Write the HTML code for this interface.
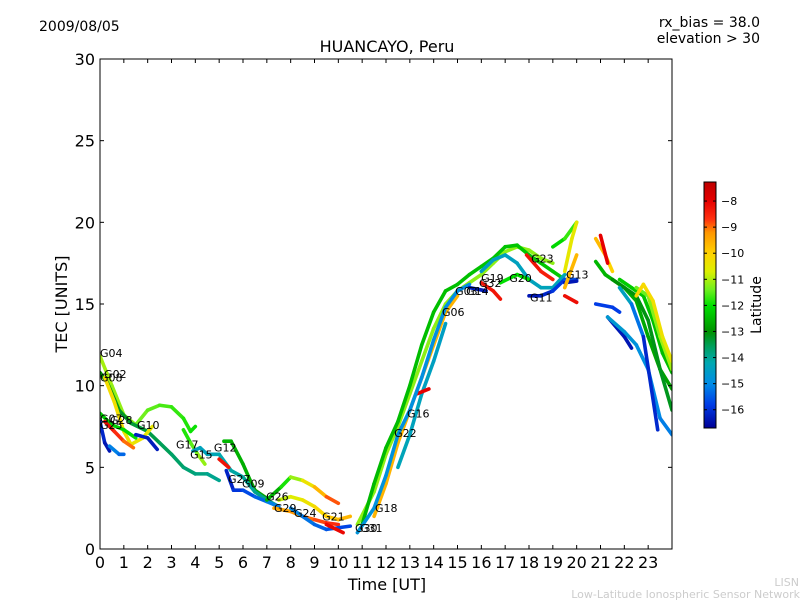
<!DOCTYPE html>
<html><head><meta charset="utf-8"><style>
body{margin:0;background:#fff;}
svg{display:block;font-family:"DejaVu Sans","Liberation Sans",sans-serif;}
</style></head><body>
<svg id="chart" width="800" height="600" viewBox="0 0 800 600">
<defs>
<linearGradient id="cbar" x1="0" y1="1" x2="0" y2="0"></linearGradient>
<clipPath id="clip"><rect x="100" y="59" width="572" height="490"/></clipPath>
</defs>
<rect width="800" height="600" fill="#fff"/>
<text x="39" y="31" font-size="14">2009/08/05</text>
<text x="760" y="27" font-size="14" text-anchor="end">rx_bias = 38.0</text>
<text x="760" y="43" font-size="14" text-anchor="end">elevation &gt; 30</text>
<text x="387" y="52" font-size="16" text-anchor="middle">HUANCAYO, Peru</text>
<g id="tracks" clip-path="url(#clip)"></g>
<g id="labels"></g>
<rect x="100" y="59" width="572" height="490" fill="none" stroke="#000" stroke-width="1"/>
<g id="xaxis"></g>
<g id="yaxis"></g>
<text x="387" y="590" font-size="16" text-anchor="middle">Time [UT]</text>
<text transform="translate(67,304) rotate(-90)" font-size="16" text-anchor="middle">TEC [UNITS]</text>
<g id="colorbar"></g>
<text transform="translate(761,305) rotate(-90)" font-size="14" text-anchor="middle">Latitude</text>
<text x="799" y="586" font-size="11" fill="#ccc" text-anchor="end">LISN</text>
<text x="800" y="598" font-size="11" fill="#ccc" text-anchor="end">Low-Latitude Ionospheric Sensor Network</text>
</svg>
<script>
const xTicks=[0,1,2,3,4,5,6,7,8,9,10,11,12,13,14,15,16,17,18,19,20,21,22,23];
const yTicks=[0,5,10,15,20,25,30];
const cbTicks=[-8,-9,-10,-11,-12,-13,-14,-15,-16];
// satellite tracks: times (UT hours), tec values, start/end latitudes
const trackTimes=[
[0,0.5,1,1.5,2,2.5,3,3.5,3.8,4],
[0,0.3,0.8,1.3,2,2.5,3,3.5,4,4.5,5],
[0.2,0.6,1,1.3,1.8,2.2],
[0,0.5,1,1.5],
[0.2,0.6,1,1.4],
[0,0.2,0.4],
[0.4,0.8,1],
[1.5,2,2.4],
[3.5,3.8,4.1,4.4],
[5.2,5.5,6,6.3,6.5,7],
[3.9,4.2,4.5,5,5.5,6,6.5,7,7.5],
[5,5.4],
[5.3,5.6,6,6.5,7,7.5],
[7,7.6,8,8.5,9,9.5,10],
[7.5,8,8.5,9,9.5,10,10.5],
[7.3,8,8.5,9,9.5,10],
[8,8.5,9,9.5,10,10.5],
[9.5,10.2],
[10.8,11.5,12,12.5,13,13.5,14,14.5,15,15.5,16,16.5,17,17.5,18,18.5,19],
[11,11.5,12,12.5,13,13.5,14,14.5,15,15.5,16,16.5,17,17.5,18,18.5,19,19.5],
[11.5,12,12.5,13,13.5,14,14.5,15],
[12.5,13,13.5,14,14.5],
[13.3,13.8],
[10.8,11.5,12,12.5,13,13.5,14,14.5,15,15.5],
[16,16.5,17,17.5,18,18.5,19,19.5],
[17.9,18.5,19],
[16.8,17.5,18],
[18,18.5,19,19.5,20],
[19.5,20],
[19.5,20],
[16,16.5,16.8],
[15.5,16.2],
[19,19.5,20],
[19.5,19.8,20],
[19.5,20],
[20.8,21.2,21.5],
[21,21.3],
[20.8,21.2,21.5,22,22.5,23,23.5,24],
[20.8,21.5,21.8],
[21.3,22,22.3],
[21.3,22,22.5,23,23.5,24],
[21.5,22,22.5,23,23.5,24],
[21.8,22.3,22.8,23.2,23.6,24],
[22.5,23,23.5,24],
[22.5,22.8,23.2,23.6,24],
[21.8,22.3,22.8,23.4]
];
const trackTec=[
[11.8,10,8.2,7.6,8.5,8.8,8.7,8,7.2,7.5],
[10.8,10.2,8.5,7.7,7.2,6.5,5.8,5,4.6,4.6,4.2],
[10.5,9,7.2,6.4,6.8,7.5],
[8.3,7.6,7.3,6.8],
[7.8,7.2,6.6,6.2],
[7.8,6.5,6],
[6.3,5.8,5.8],
[7,6.8,6.1],
[7.3,6.5,5.8,5.2],
[6.6,6.6,5.2,4.2,3.6,3.1],
[6,6.2,5.8,5.8,4.8,4.4,3.5,3,2.6],
[5.5,5],
[4.8,3.6,3.6,3.2,2.9,2.6],
[3,3.8,4.4,4.2,3.8,3.2,2.8],
[3,3.2,3,2.6,2,1.8,2],
[2.5,2.3,2,1.8,1.6,1.5],
[2.5,2,1.5,1.2,1.3,1.4],
[1.5,1],
[1.5,3.5,5.8,7.5,9.5,11.5,13.5,15,15.8,16.3,16.8,17.5,18.2,18.5,18.3,17.8,17.5],
[1.5,4,6.2,7.8,10,12.5,14.5,15.8,16.2,16.8,17.3,17.8,18.5,18.6,18,17.5,17,16.5],
[2,4,6.5,8.5,10.5,12.5,14.5,15.5],
[5,7,9.5,11.5,13.8],
[9.5,9.8],
[1,2.5,4.5,7,8.5,10.5,12.8,14.8,15.8,16.2],
[17,17.7,18,17.5,16.5,16,16,16.8],
[18,17,16.5],
[16.3,16.8,16.5],
[15.5,15.5,15.8,16.5,16.5],
[16.3,16.4],
[15.5,15.1],
[16.3,15.8,15.3],
[16,15.8],
[18.5,19,20],
[17,19,20],
[16,18],
[19,18,17],
[19.2,17.5],
[17.6,16.8,16.5,16,15.2,13,11,9.8],
[15,14.8,14.5],
[14.2,13,12.3],
[14.2,13.3,12.5,11,8,7],
[16.5,16,15.5,14,11,8.5],
[16.5,16,15.5,14,12,10.8],
[16,15.5,13,11],
[15.5,16.2,15.2,13,11.5],
[16,15,13,7.3]
];
const trackLatStart=[-11,-13,-10.2,-12.3,-8,-16,-15,-16.2,-12,-12.5,-14.5,-8.3,-16.3,-13,-11,-9.5,-15,-8,-11.2,-12.5,-9.6,-14.3,-8,-14.8,-14.5,-8.2,-12,-16.5,-16.4,-8.2,-8.3,-16.3,-12.3,-10.5,-9.5,-9.5,-8,-12.5,-15.8,-16.3,-14.6,-13,-12.2,-11.5,-10,-14];
const trackLatEnd=[-12,-14,-10.5,-12,-9.2,-16.5,-15.5,-16.3,-11,-12.8,-13.8,-8.2,-15,-8.5,-9.5,-8.5,-15.8,-8.2,-11.2,-12.3,-9.6,-14.5,-8,-15,-14.3,-8.5,-12,-15.5,-16.3,-8.2,-8.3,-16.3,-11.5,-10.5,-9.8,-10.2,-8,-12.8,-15.8,-16.4,-15.2,-13.2,-12.5,-11,-10.5,-16.5];
const labelNames=["G04","G02","G08","G07","G28","G25","G10","G17","G15","G12","G27","G09","G26","G29","G24","G21","G30","G31","G18","G22","G16","G06","G03","G14","G19","G32","G20","G23","G11","G13"];
const labelT=[0,0.17,0,0,0.42,0,1.55,3.19,3.78,4.78,5.37,5.96,6.97,7.3,8.14,9.32,10.7,10.91,11.54,12.34,12.88,14.35,14.9,15.36,15.99,15.9,17.17,18.09,18.04,19.55];
const labelTec=[12,10.7,10.5,8,7.9,7.6,7.6,6.4,5.8,6.2,4.3,4,3.2,2.5,2.2,2,1.3,1.3,2.5,7.1,8.3,14.5,15.8,15.8,16.6,16.3,16.6,17.8,15.4,16.8];

const NS="http://www.w3.org/2000/svg";
const X0=100,X1=672,Y0=549,Y1=59;
const xs=t=>X0+t*(X1-X0)/24;
const ys=v=>Y0-v*(Y0-Y1)/30;
const LATMIN=-16.7,LATMAX=-7.27,CB_TOP=182,CB_BOT=428;
const cbY=l=>CB_BOT-(l-LATMIN)*(CB_BOT-CB_TOP)/(LATMAX-LATMIN);
const stops=[[-16.7,[0,0,150]],[-15.8,[0,60,230]],[-15,[0,140,230]],[-14.2,[0,168,176]],[-13.6,[0,160,96]],[-13,[0,145,0]],[-12,[0,224,0]],[-11.4,[110,240,30]],[-10.7,[220,240,0]],[-10,[255,210,0]],[-9.2,[255,150,0]],[-8.7,[255,50,16]],[-8,[230,0,0]],[-7.27,[190,0,0]]];
function col(l){
  if(l<=stops[0][0])return rgb(stops[0][1]);
  for(let i=1;i<stops.length;i++){if(l<=stops[i][0]){const a=stops[i-1],b=stops[i];const f=(l-a[0])/(b[0]-a[0]);return rgb(a[1].map((c,k)=>c+(b[1][k]-c)*f));}}
  return rgb(stops[stops.length-1][1]);
}
function rgb(c){return "rgb("+c.map(Math.round).join(",")+")";}
function mk(tag,attrs,parent){const e=document.createElementNS(NS,tag);for(const k in attrs)e.setAttribute(k,attrs[k]);parent.appendChild(e);return e;}

const tg=document.getElementById("tracks");
for(let i=0;i<trackTimes.length;i++){
  const g=mk("g",{},tg);
  
  
  const T=trackTimes[i],V=trackTec[i],n=T.length;
  for(let j=0;j<n-1;j++){
    const f=(j+0.5)/(n-1);
    const lat=trackLatStart[i]+(trackLatEnd[i]-trackLatStart[i])*f;
    const s=mk("line",{x1:xs(T[j]),y1:ys(V[j]),x2:xs(T[j+1]),y2:ys(V[j+1]),stroke:col(lat),"stroke-width":3.6,"stroke-linecap":"round"},g);
    
    
  }
}
const lg=document.getElementById("labels");
for(let i=0;i<labelNames.length;i++){
  const t=mk("text",{x:xs(labelT[i]),y:ys(labelTec[i])+4,"font-size":11},lg);
  t.textContent=labelNames[i];
  
  
}
const xa=document.getElementById("xaxis");
for(const t of xTicks){
  const x=xs(t);
  mk("line",{x1:x,y1:Y0,x2:x,y2:Y0-4,stroke:"#000"},xa);
  mk("line",{x1:x,y1:Y1,x2:x,y2:Y1+4,stroke:"#000"},xa);
  const tx=mk("text",{x:x,y:568,"font-size":16,"text-anchor":"middle"},xa);
  tx.textContent=t;
  
  
}
const ya=document.getElementById("yaxis");
for(const v of yTicks){
  const y=ys(v);
  mk("line",{x1:X0,y1:y,x2:X0+4,y2:y,stroke:"#000"},ya);
  mk("line",{x1:X1,y1:y,x2:X1-4,y2:y,stroke:"#000"},ya);
  const tx=mk("text",{x:95,y:y+6,"font-size":16,"text-anchor":"end"},ya);
  tx.textContent=v;
  
  
}
const grad=document.getElementById("cbar");
for(const s of stops){mk("stop",{offset:((s[0]-LATMIN)/(LATMAX-LATMIN)).toFixed(3),"stop-color":rgb(s[1])},grad);}
const cb=document.getElementById("colorbar");
const cr=mk("rect",{x:704,y:CB_TOP,width:12,height:CB_BOT-CB_TOP,fill:"url(#cbar)",stroke:"#000","stroke-width":1},cb);


for(const l of cbTicks){
  const y=cbY(l);
  mk("line",{x1:704,y1:y,x2:707,y2:y,stroke:"#000"},cb);
  mk("line",{x1:716,y1:y,x2:713,y2:y,stroke:"#000"},cb);
  const tx=mk("text",{x:721,y:y+4,"font-size":11},cb);
  tx.textContent="\u2212"+Math.abs(l);
  
  
}
</script>
</body></html>
